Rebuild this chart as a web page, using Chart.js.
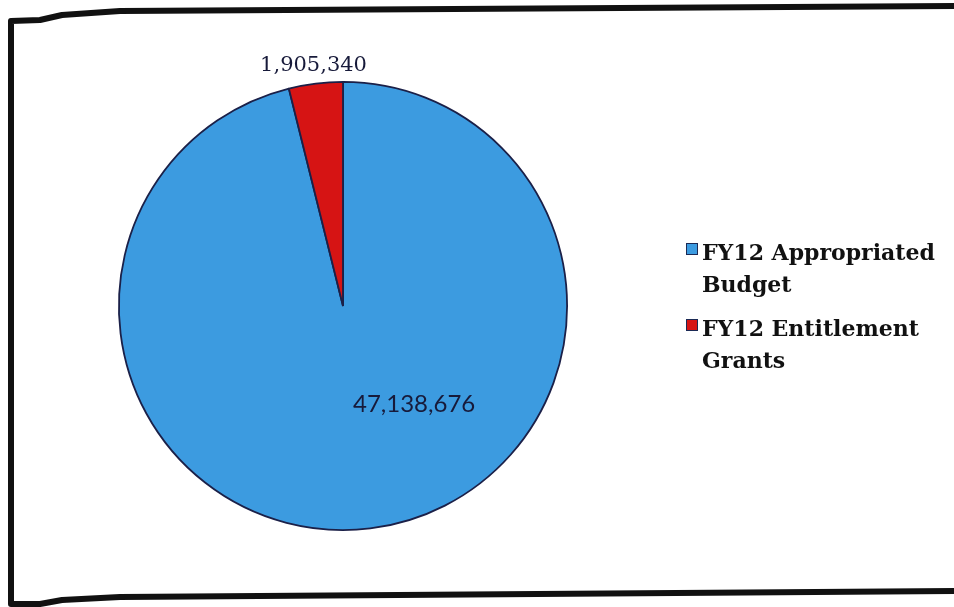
<!DOCTYPE html>
<html>
<head>
<meta charset="utf-8">
<script src="https://cdn.jsdelivr.net/npm/chart.js@4.4.1/dist/chart.umd.min.js"></script>
<style>
  html, body { margin: 0; padding: 0; background: #ffffff; }
  #wrap { position: relative; width: 954px; height: 607px; }
</style>
</head>
<body>
<div id="wrap"><canvas id="pie" width="954" height="607"></canvas></div>
<script>
// Funding sources, FY12
const categories = ['FY12 Appropriated Budget', 'FY12 Entitlement Grants'];
const legendLines = [['FY12 Appropriated', 'Budget'], ['FY12 Entitlement', 'Grants']];
const amounts = [47138676, 1905340];
const sliceColors = ['#3c9be0', '#d61414'];

// Where each value label sits: angle offset from the slice middle (deg) and distance as a share of the radius
const labelAngleShift = [-29, 0];
const labelDistance = [0.54, 1.08];
const labelFonts = ['24px Lato', '21px "DejaVu Serif"'];

const fmt = v => v.toLocaleString('en-US');

// Scanned-looking black frame around the chart
const framePlugin = {
  id: 'frame',
  afterDraw(chart) {
    const c = chart.ctx;
    c.save();
    c.strokeStyle = '#111';
    c.lineWidth = 6;
    c.lineJoin = 'round';
    c.beginPath();
    c.moveTo(958, 6);
    c.lineTo(120, 11);
    c.lineTo(62, 15);
    c.lineTo(40, 20);
    c.lineTo(11, 21);
    c.lineTo(11, 604);
    c.lineTo(40, 604);
    c.lineTo(62, 600);
    c.lineTo(120, 597);
    c.lineTo(958, 591);
    c.stroke();
    c.restore();
  }
};

// Value labels placed from each arc's own geometry
const valueLabels = {
  id: 'valueLabels',
  afterDatasetsDraw(chart) {
    const c = chart.ctx;
    const meta = chart.getDatasetMeta(0);
    c.save();
    c.textAlign = 'center';
    c.textBaseline = 'middle';
    c.fillStyle = '#171a3a';
    meta.data.forEach((arc, i) => {
      const p = arc.getProps(['x', 'y', 'startAngle', 'endAngle', 'outerRadius'], true);
      const mid = (p.startAngle + p.endAngle) / 2 + labelAngleShift[i] * Math.PI / 180;
      const r = p.outerRadius * labelDistance[i];
      c.font = labelFonts[i];
      c.fillText(fmt(amounts[i]), p.x + Math.cos(mid) * r, p.y + Math.sin(mid) * r);
    });
    c.restore();
  }
};

// Legend on the right with wrapped entries
const sideLegend = {
  id: 'sideLegend',
  afterDraw(chart) {
    const c = chart.ctx;
    const x0 = 686, y0 = 250, itemGap = 76, lineGap = 32, box = 12;
    c.save();
    c.font = 'bold 22px "DejaVu Serif"';
    c.textBaseline = 'alphabetic';
    c.textAlign = 'left';
    categories.forEach((name, i) => {
      const y = y0 + i * itemGap;
      c.fillStyle = sliceColors[i];
      c.fillRect(x0, y - 7, box, box);
      c.strokeStyle = '#1b2a55';
      c.lineWidth = 1;
      c.strokeRect(x0 + 0.5, y - 6.5, box - 1, box - 1);
      c.fillStyle = '#111';
      legendLines[i].forEach((ln, k) => {
        c.fillText(ln, x0 + 16, y + 10 + k * lineGap);
      });
    });
    c.restore();
  }
};

new Chart(document.getElementById('pie'), {
  type: 'pie',
  data: {
    labels: categories,
    datasets: [{
      data: amounts,
      backgroundColor: sliceColors,
      borderColor: '#1b2048',
      borderWidth: 1.8
    }]
  },
  options: {
    responsive: false,
    animation: false,
    layout: { padding: { left: 118, right: 386, top: 81, bottom: 76 } },
    plugins: {
      legend: { display: false },
      tooltip: { enabled: false }
    }
  },
  plugins: [framePlugin, valueLabels, sideLegend]
});
</script>
</body>
</html>
